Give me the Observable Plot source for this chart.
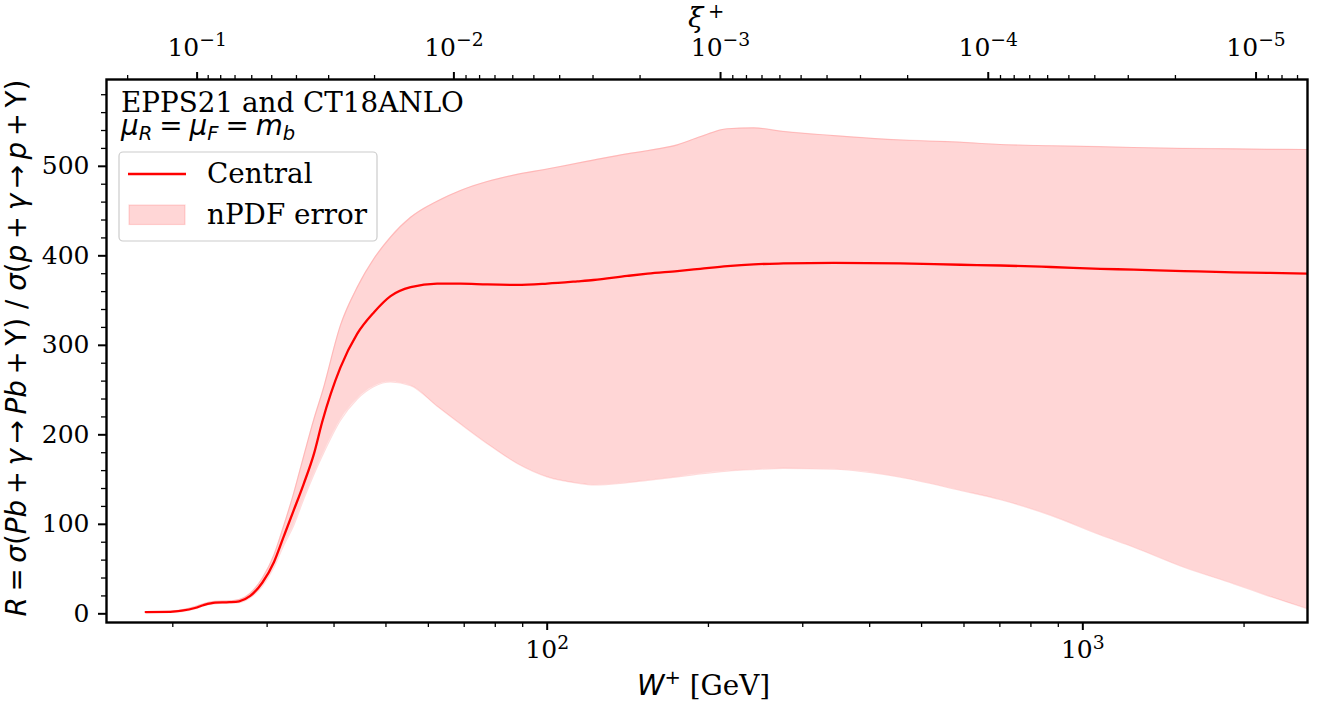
<!DOCTYPE html>
<html><head><meta charset="utf-8">
<script src="https://cdn.jsdelivr.net/npm/d3@7"></script>
<script src="https://cdn.jsdelivr.net/npm/@observablehq/plot@0.6"></script>
<style>html,body{margin:0;padding:0;background:#fff}
svg text.tick-serif{font-family:"DejaVu Serif" !important;font-size:25px !important}</style>
</head><body><div id="chart"></div>
<script>
// ---- data ----
const W_GeV = [17.8, 19.8, 20.8, 22.0, 22.9, 24.0, 25.5, 26.6, 27.9, 29.4, 30.9, 32.2, 33.6, 35.1, 36.7, 38.0, 41.1, 44.2, 47.5, 51.0, 55.6, 62.3, 68.9, 77.3, 87.9, 100, 113.8, 122, 141, 154, 175, 193, 217, 243, 276, 343, 456, 591, 702, 871, 1079, 1245, 1544, 1914, 2210, 2626];
const central = [2, 2.2, 3.5, 6.5, 10, 12.5, 13, 14, 20, 35, 58, 86, 115, 145, 179, 214, 275, 313, 337, 355, 365, 369, 369, 368, 367.5, 369, 371.5, 373, 377.5, 380, 383, 385.5, 388.5, 390.5, 391.5, 392.2, 391.5, 390, 389.2, 387.5, 385.5, 384.5, 383, 381.5, 381, 380];
const upper = [2.5, 3, 4.5, 8, 11.5, 14, 14.5, 16, 23, 40, 66, 98, 134, 176, 218, 247, 322, 365, 397, 421, 443, 461, 473, 483, 491, 497, 503.5, 507, 514, 517.5, 524, 533, 542, 543, 539, 534.4, 529.5, 527, 524.4, 523, 522, 521, 520, 519.5, 519, 518.8];
const lower = [1.5, 1.8, 2.5, 5.5, 9, 11, 12, 12.5, 18, 31, 52, 76, 98, 128, 156, 176, 216, 240, 254, 259, 255, 232, 212, 190, 168, 153, 146, 144, 146.5, 149, 153, 156.4, 159.5, 161.2, 162.5, 161.5, 152.6, 137.8, 127.4, 110, 88, 74.4, 52, 33.5, 20.4, 5.6];

// ---- ticks ----
const xTicksMajor = [100, 1000];
const xTickExp = ["2", "3"];
const xTicksMinor = [20, 30, 40, 50, 60, 70, 80, 90, 200, 300, 400, 500, 600, 700, 800, 900, 2000];
const yTicksMajor = [0, 100, 200, 300, 400, 500];
const yTicksMinor = d3.range(20, 600, 20).filter(v => v % 100 !== 0);
const xiTicksMajor = [1e-1, 1e-2, 1e-3, 1e-4, 1e-5];
const xiTickExp = ["\u22121", "\u22122", "\u22123", "\u22124", "\u22125"];
const xiMinorMult = [2, 3, 4, 5, 6, 7, 8, 9];

const xDomain = [15.04, 2627];
const yDomain = [-9.7, 597];

// xi+ <-> W+ relation of the secondary axis
const wFromXi = xi => Math.sqrt(44.34 / xi + 49.6);

const data = W_GeV.map((w, i) => ({W: w, R: central[i], lo: lower[i], hi: upper[i]}));

// tick labels "10^e" are written as "10|e" and split into base + superscript after rendering
const bottomLabel = new Map(xTicksMajor.map((w, i) => [w, "10|" + xTickExp[i]]));
const topMajorW = xiTicksMajor.map(wFromXi);
const topLabel = new Map(topMajorW.map((w, i) => [w, "10|" + xiTickExp[i]]));
const xiMinor = [];
for (let k = 1; k <= 6; k++) for (const m of xiMinorMult) xiMinor.push(m * Math.pow(10, -k));
const topMinorW = xiMinor.map(wFromXi).filter(w => w >= xDomain[0] && w <= xDomain[1]);

const tickFont = 25;
const SERIF = "DejaVu Serif";
const CURVE = "monotone-x";
const chart = Plot.plot({
  width: 1320, height: 705,
  marginLeft: 106, marginRight: 13, marginTop: 79, marginBottom: 83,
  x: {type: "log", domain: xDomain, label: null},
  y: {domain: yDomain, label: null},
  style: {fontFamily: SERIF, background: "white", color: "black", overflow: "visible"},
  marks: [
    Plot.areaY(data, {x: "W", y1: "lo", y2: "hi", fill: "red", fillOpacity: 0.16, curve: CURVE, clip: true}),
    Plot.lineY(data, {x: "W", y: "hi", stroke: "red", strokeOpacity: 0.14, strokeWidth: 1.2, curve: CURVE, clip: true}),
    Plot.lineY(data, {x: "W", y: "lo", stroke: "red", strokeOpacity: 0.14, strokeWidth: 1.2, curve: CURVE, clip: true}),
    Plot.lineY(data, {x: "W", y: "R", stroke: "red", strokeWidth: 2.3, curve: CURVE, clip: true}),
    Plot.axisY(yTicksMajor, {anchor: "left", tickSize: 8, tickPadding: 9, strokeWidth: 2, fontSize: tickFont, fontFamily: SERIF, tickFormat: d => String(d), label: null}),
    Plot.axisY(yTicksMinor, {anchor: "left", tickSize: 5, strokeWidth: 1.3, fill: "none", label: null}),
    Plot.axisX(xTicksMajor, {anchor: "bottom", tickSize: 8, tickPadding: 10, strokeWidth: 2, fontSize: tickFont, fontFamily: SERIF, tickFormat: d => bottomLabel.get(d), label: null}),
    Plot.axisX(xTicksMinor, {anchor: "bottom", tickSize: 5, strokeWidth: 1.3, fill: "none", label: null}),
    Plot.axisX(topMajorW, {anchor: "top", tickSize: 8, tickPadding: 16, strokeWidth: 2, fontSize: tickFont, fontFamily: SERIF, tickFormat: d => topLabel.get(d), label: null}),
    Plot.axisX(topMinorW, {anchor: "top", tickSize: 5, strokeWidth: 1.3, fill: "none", label: null}),
    Plot.frame({stroke: "black", strokeWidth: 2.4})
  ]
});
document.getElementById("chart").appendChild(chart);

const svg = d3.select(chart);

// tick labels: serif font, and split "10|e" into base and superscript
svg.selectAll("text").each(function () {
  const el = d3.select(this);
  el.classed("tick-serif", true).attr("font-family", SERIF).attr("font-size", tickFont);
  const s = this.textContent;
  if (s.indexOf("|") > 0) {
    const [base, e] = s.split("|");
    el.text(base);
    el.append("tspan").attr("font-size", "0.75em").attr("dy", "-0.5em").text(e);
  }
});

// ---- labels, annotation and legend ----
const F = 27.8;
const SUB = 19.5;
const MATH = "DejaVu Sans";

function addText(parent, x, y, parts, attrs = {}) {
  const t = parent.append("text").attr("x", x).attr("y", y).attr("fill", "black")
    .attr("font-size", F).attr("text-anchor", "start");
  for (const [k, v] of Object.entries(attrs)) t.attr(k, v);
  for (const p of parts) {
    const s = t.append("tspan").text(p.t);
    if (p.family) s.attr("font-family", p.family);
    if (p.italic) s.attr("font-style", "italic");
    if (p.size) s.attr("font-size", p.size);
    if (p.dy !== undefined) s.attr("dy", p.dy);
    if (p.dx !== undefined) s.attr("dx", p.dx);
    if (p.x !== undefined) s.attr("x", p.x);
    if (p.y !== undefined) s.attr("y", p.y);
  }
  return t;
}

// y label
const th = "\u2009";
const yparts = [
  {t: "R", italic: true}, {t: th + "=" + th}, {t: "\u03C3", italic: true}, {t: "("}, {t: "Pb", italic: true},
  {t: th + "+" + th}, {t: "\u03B3", italic: true}, {t: th + "\u2192" + th}, {t: "Pb", italic: true}, {t: th + "+" + th},
  {t: "\u03A5"}, {t: ")"}, {t: " / "}, {t: "\u03C3", italic: true}, {t: "("}, {t: "p", italic: true},
  {t: th + "+" + th}, {t: "\u03B3", italic: true}, {t: th + "\u2192" + th}, {t: "p", italic: true}, {t: th + "+" + th},
  {t: "\u03A5"}, {t: ")"}
];
addText(svg, 0, 0, yparts, {"font-family": MATH, "text-anchor": "middle", transform: "translate(26,348) rotate(-90)"});

// x label
addText(svg, 637, 695, [
  {t: "W", italic: true, family: MATH},
  {t: "+", family: MATH, size: 19.5, dy: -11},
  {t: "\u00A0[GeV]", family: SERIF, dy: 11}
]);

// top label xi+
addText(svg, 688, 27, [
  {t: "\u03BE", family: SERIF, italic: true},
  {t: "+", family: SERIF, size: 19.5, x: 708, y: 18}
]);

// annotation
addText(svg, 121, 112, [{t: "EPPS21 and CT18ANLO", family: SERIF}]);
addText(svg, 121, 135, [
  {t: "\u03BC", italic: true, family: MATH},
  {t: "R", italic: true, family: MATH, size: SUB, dy: 5},
  {t: "=", family: MATH, dx: 7, dy: -5},
  {t: "\u03BC", italic: true, family: MATH, dx: 7},
  {t: "F", italic: true, family: MATH, size: SUB, dy: 5},
  {t: "=", family: MATH, dx: 7, dy: -5},
  {t: "m", italic: true, family: MATH, dx: 7},
  {t: "b", italic: true, family: MATH, size: SUB, dy: 5}
]);

// legend
const lg = svg.append("g");
lg.append("rect").attr("x", 119).attr("y", 152).attr("width", 258).attr("height", 89)
  .attr("rx", 4).attr("fill", "white").attr("fill-opacity", 0.8).attr("stroke", "#cccccc").attr("stroke-width", 1.2);
lg.append("line").attr("x1", 128).attr("x2", 186).attr("y1", 174).attr("y2", 174).attr("stroke", "red").attr("stroke-width", 2.3);
lg.append("rect").attr("x", 129).attr("y", 205).attr("width", 56).attr("height", 19.5)
  .attr("fill", "red").attr("fill-opacity", 0.16).attr("stroke", "red").attr("stroke-opacity", 0.14).attr("stroke-width", 1.2);
addText(lg, 207, 183, [{t: "Central", family: SERIF}]);
addText(lg, 207, 224, [{t: "nPDF error", family: SERIF}]);
</script></body></html>
